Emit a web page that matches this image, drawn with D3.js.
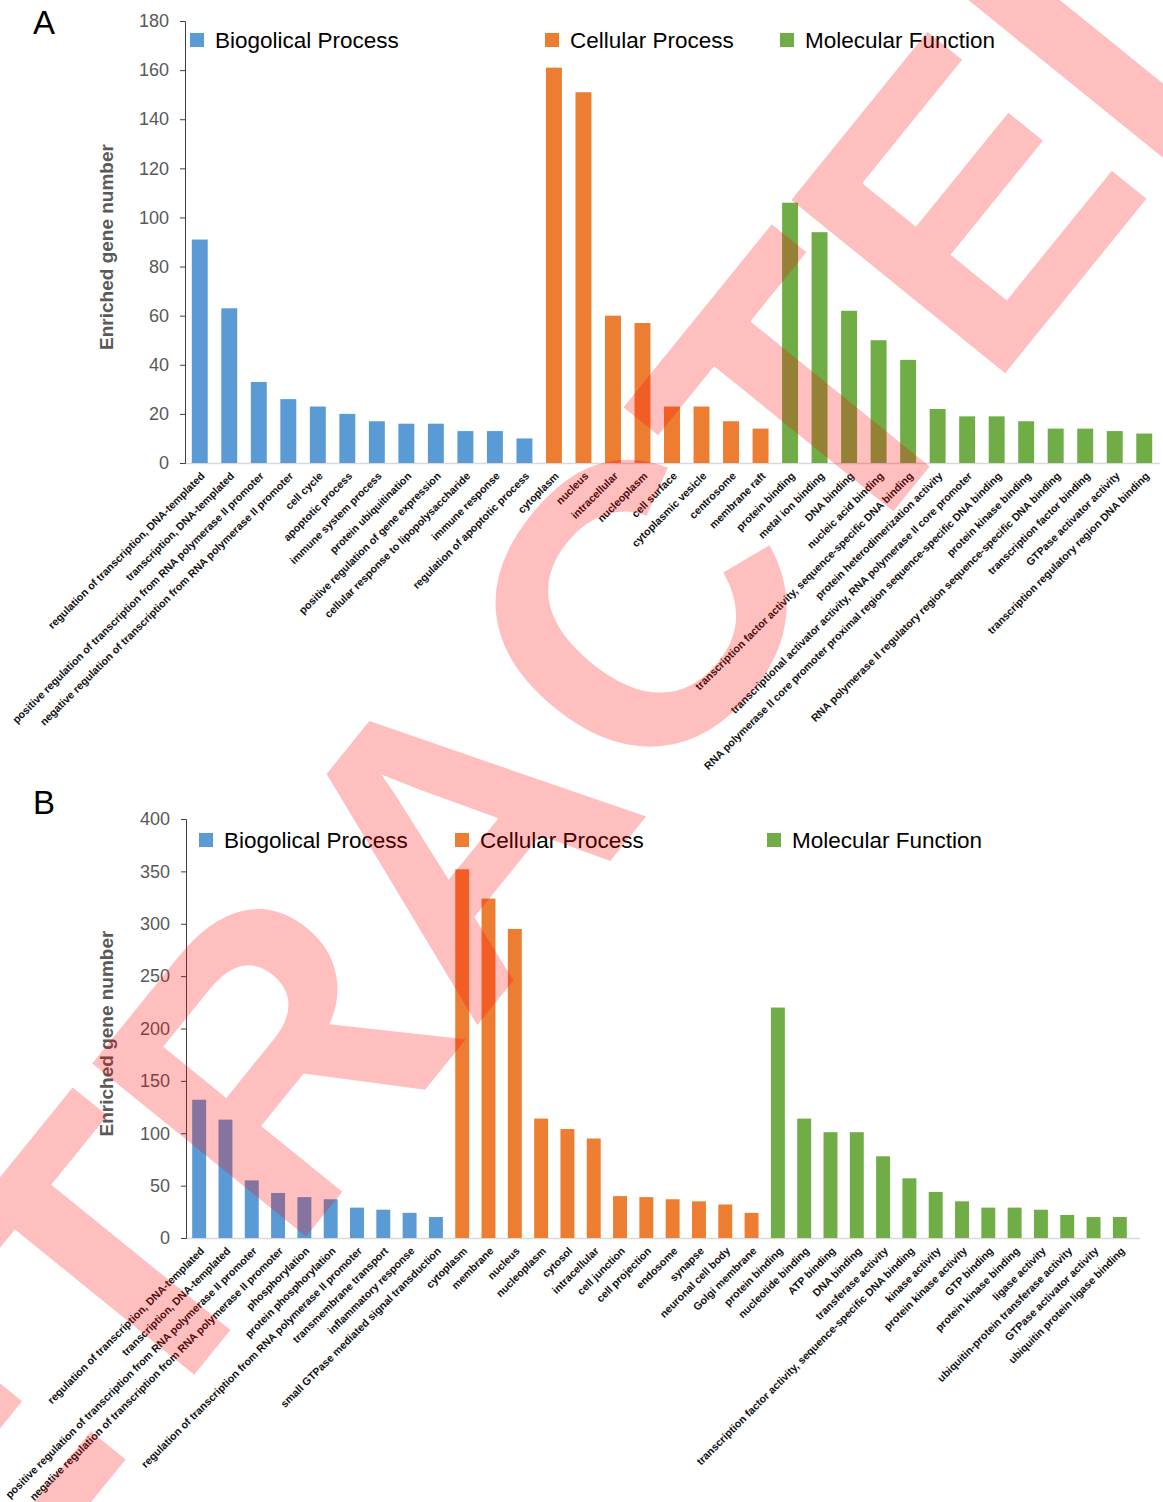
<!DOCTYPE html>
<html>
<head>
<meta charset="utf-8">
<script src="https://cdn.jsdelivr.net/npm/d3@7.9.0/dist/d3.min.js"></script>
<style>
  body { margin: 0; background: #fff; }
  svg { display: block; font-family: Arial, "Liberation Sans", sans-serif; }
</style>
</head>
<body>
<svg id="chart" width="1163" height="1502"></svg>
<script>
// ---- Panel A data ----
const bpLabelsA = [
  'regulation of transcription, DNA-templated',
  'transcription, DNA-templated',
  'positive regulation of transcription from RNA polymerase II promoter',
  'negative regulation of transcription from RNA polymerase II promoter',
  'cell cycle',
  'apoptotic process',
  'immune system process',
  'protein ubiquitination',
  'positive regulation of gene expression',
  'cellular response to lipopolysaccharide',
  'immune response',
  'regulation of apoptotic process',
];
const bpValuesA = [91, 63, 33, 26, 23, 20, 17, 16, 16, 13, 13, 10];

const ccLabelsA = [
  'cytoplasm', 'nucleus', 'intracellular', 'nucleoplasm',
  'cell surface', 'cytoplasmic vesicle', 'centrosome', 'membrane raft',
];
const ccValuesA = [161, 151, 60, 57, 23, 23, 17, 14];

const mfLabelsA = [
  'protein binding',
  'metal ion binding',
  'DNA binding',
  'nucleic acid binding',
  'transcription factor activity, sequence-specific DNA binding',
  'protein heterodimerization activity',
  'transcriptional activator activity, RNA polymerase II core promoter',
  'RNA polymerase II core promoter proximal region sequence-specific DNA binding',
  'protein kinase binding',
  'RNA polymerase II regulatory region sequence-specific DNA binding',
  'transcription factor binding',
  'GTPase activator activity',
  'transcription regulatory region DNA binding',
];
const mfValuesA = [106, 94, 62, 50, 42, 22, 19, 19, 17, 14, 14, 13, 12];

const ticksA = [0, 20, 40, 60, 80, 100, 120, 140, 160, 180];

// ---- Panel B data ----
const bpLabelsB = [
  'regulation of transcription, DNA-templated',
  'transcription, DNA-templated',
  'positive regulation of transcription from RNA polymerase II promoter',
  'negative regulation of transcription from RNA polymerase II promoter',
  'phosphorylation',
  'protein phosphorylation',
  'regulation of transcription from RNA polymerase II promoter',
  'transmembrane transport',
  'inflammatory response',
  'small GTPase mediated signal transduction',
];
const bpValuesB = [132, 113, 55, 43, 39, 37, 29, 27, 24, 20];

const ccLabelsB = [
  'cytoplasm', 'membrane', 'nucleus', 'nucleoplasm', 'cytosol', 'intracellular',
  'cell junction', 'cell projection', 'endosome', 'synapse', 'neuronal cell body', 'Golgi membrane',
];
const ccValuesB = [352, 324, 295, 114, 104, 95, 40, 39, 37, 35, 32, 24];

const mfLabelsB = [
  'protein binding',
  'nucleotide binding',
  'ATP binding',
  'DNA binding',
  'transferase activity',
  'transcription factor activity, sequence-specific DNA binding',
  'kinase activity',
  'protein kinase activity',
  'GTP binding',
  'protein kinase binding',
  'ligase activity',
  'ubiquitin-protein transferase activity',
  'GTPase activator activity',
  'ubiquitin protein ligase binding',
];
const mfValuesB = [220, 114, 101, 101, 78, 57, 44, 35, 29, 29, 27, 22, 20, 20];

const ticksB = [0, 50, 100, 150, 200, 250, 300, 350, 400];

const groupNames = ['Biogolical Process', 'Cellular Process', 'Molecular Function'];
const groupColors = ['#5b9bd5', '#ed7d31', '#70ad47'];

const svg = d3.select('#chart');

function toRows(labels, values, group) {
  return labels.map((label, i) => ({ label, value: values[i], group }));
}

function drawPanel(cfg) {
  const rows = [
    ...toRows(cfg.bp[0], cfg.bp[1], 0),
    ...toRows(cfg.cc[0], cfg.cc[1], 1),
    ...toRows(cfg.mf[0], cfg.mf[1], 2),
  ];
  const keys = rows.map((d, i) => i);

  const x = d3.scaleBand()
    .domain(keys)
    .range([cfg.left, cfg.right])
    .paddingInner(cfg.pad)
    .paddingOuter(cfg.pad / 2);
  const y = d3.scaleLinear().domain([0, cfg.max]).range([cfg.bottom, cfg.top]);

  const g = svg.append('g');

  // panel letter
  g.append('text')
    .attr('x', 33).attr('y', cfg.letterY)
    .attr('font-size', 33).attr('fill', '#000')
    .text(cfg.letter);

  // baseline
  g.append('line')
    .attr('x1', cfg.left).attr('x2', cfg.baseEnd)
    .attr('y1', cfg.bottom + 0.5).attr('y2', cfg.bottom + 0.5)
    .attr('stroke', '#d9d9d9').attr('stroke-width', 1.5);

  // bars
  g.selectAll('rect.bar')
    .data(rows)
    .join('rect')
    .attr('class', 'bar')
    .attr('x', (d, i) => x(i))
    .attr('width', x.bandwidth())
    .attr('y', (d) => y(d.value))
    .attr('height', (d) => y(0) - y(d.value))
    .attr('fill', (d) => groupColors[d.group]);

  // y axis
  const yAxis = g.append('g')
    .attr('transform', `translate(${cfg.left},0)`)
    .call(d3.axisLeft(y).tickValues(cfg.ticks).tickSize(5).tickPadding(11));
  yAxis.select('.domain').attr('stroke', '#404040');
  yAxis.selectAll('.tick line').attr('stroke', '#404040');
  yAxis.selectAll('.tick text')
    .attr('font-size', 18).attr('fill', '#595959')
    .attr('font-family', 'Arial, "Liberation Sans", sans-serif');

  // rotated category labels
  g.selectAll('text.cat')
    .data(rows)
    .join('text')
    .attr('class', 'cat')
    .attr('transform', (d, i) => {
      const cx = x(i) + x.bandwidth() / 2 + 3;
      return `translate(${cx},${cfg.bottom + 11}) rotate(-45)`;
    })
    .attr('text-anchor', 'end')
    .attr('dy', '0.35em')
    .attr('font-size', 10.7)
    .attr('font-weight', 'bold')
    .attr('fill', '#111')
    .text((d) => d.label);

  // y title
  g.append('text')
    .attr('transform', `translate(${cfg.titleX},${(cfg.top + cfg.bottom) / 2 + 5}) rotate(-90)`)
    .attr('text-anchor', 'middle')
    .attr('font-size', 19)
    .attr('font-weight', 'bold')
    .attr('fill', '#595959')
    .text('Enriched gene number');

  // legend
  cfg.legendX.forEach((lx, k) => {
    g.append('rect')
      .attr('x', lx).attr('y', cfg.legendY - 7)
      .attr('width', 14).attr('height', 14)
      .attr('fill', groupColors[k]);
    g.append('text')
      .attr('x', lx + 25).attr('y', cfg.legendY + 8)
      .attr('font-size', 22.5).attr('fill', '#000')
      .text(groupNames[k]);
  });
}

drawPanel({
  letter: 'A', letterY: 34,
  bp: [bpLabelsA, bpValuesA], cc: [ccLabelsA, ccValuesA], mf: [mfLabelsA, mfValuesA],
  left: 185, right: 1159, baseEnd: 1160, pad: 0.46,
  top: 21, bottom: 463, max: 180, ticks: ticksA,
  titleX: 113, legendX: [190, 545, 780], legendY: 40,
});

drawPanel({
  letter: 'B', letterY: 814,
  bp: [bpLabelsB, bpValuesB], cc: [ccLabelsB, ccValuesB], mf: [mfLabelsB, mfValuesB],
  left: 186, right: 1133, baseEnd: 1140, pad: 0.47,
  top: 819, bottom: 1238, max: 400, ticks: ticksB,
  titleX: 113, legendX: [199, 455, 767], legendY: 840,
});

// retraction stamp laid over the figure
svg.append('text')
  .attr('transform', 'translate(450,830) rotate(-51)')
  .attr('text-anchor', 'middle')
  .attr('dy', '0.36em')
  .attr('font-size', 400)
  .attr('font-weight', 'bold')
  .attr('font-family', 'Arial, "Liberation Sans", sans-serif')
  .attr('fill', '#ff0000')
  .attr('fill-opacity', 0.25)
  .text('RETRACTED');
</script>
</body>
</html>
